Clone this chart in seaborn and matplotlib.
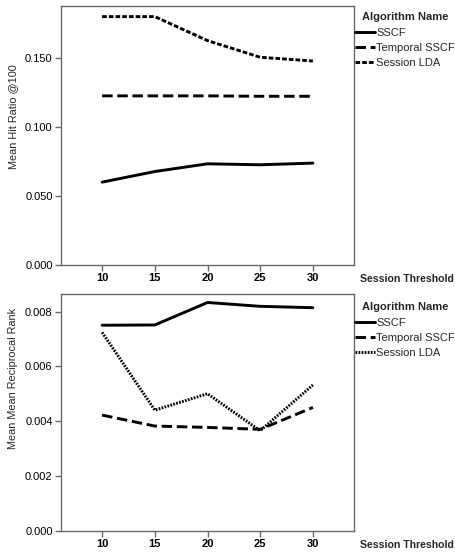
import matplotlib
matplotlib.use("Agg")
import matplotlib.pyplot as plt
import seaborn as sns
import pandas as pd
from matplotlib.ticker import FormatStrFormatter

thresholds = [10, 15, 20, 25, 30]
algorithms = ["SSCF", "Temporal SSCF", "Session LDA"]

hit_sscf = [0.0599, 0.0676, 0.0732, 0.0725, 0.0737]
hit_temporal = [0.1225, 0.1225, 0.1225, 0.1222, 0.1222]
hit_lda = [0.1800, 0.1800, 0.1626, 0.1505, 0.1478]

mrr_sscf = [0.00750, 0.00751, 0.00833, 0.00819, 0.00814]
mrr_temporal = [0.00422, 0.00382, 0.00377, 0.00370, 0.00450]
mrr_lda = [0.00724, 0.00440, 0.00500, 0.00365, 0.00532]


def long_df(a, b, c):
    rows = []
    for name, vals in zip(algorithms, [a, b, c]):
        for t, v in zip(thresholds, vals):
            rows.append({"Session Threshold": t, "Algorithm Name": name, "v": v})
    return pd.DataFrame(rows)


df_hit = long_df(hit_sscf, hit_temporal, hit_lda)
df_mrr = long_df(mrr_sscf, mrr_temporal, mrr_lda)

sns.set_theme(style="white")
plt.rcParams["font.family"] = ["Liberation Sans", "DejaVu Sans"]

fig = plt.figure(figsize=(4.56, 5.57), dpi=100)
W, H = 456, 557


def add_axes(left, top, right, bottom):
    return fig.add_axes([left / W, 1 - bottom / H, (right - left) / W, (bottom - top) / H])


ax1 = add_axes(61, 6, 354, 264.7)
ax2 = add_axes(61, 294, 354, 530.7)

spine_col = "#6a6a6a"

configs = [
    (ax1, df_hit, "Mean Hit Ratio @100", (0, 0.1877), [0, 0.05, 0.10, 0.15], "%.3f",
     {"SSCF": "", "Temporal SSCF": (3.6, 1.6), "Session LDA": (1.6, 0.7)}, 0.571, 0.98, 279),
    (ax2, df_mrr, "Mean Mean Reciprocal Rank", (0, 0.00864), [0, 0.002, 0.004, 0.006, 0.008], "%.3f",
     {"SSCF": "", "Temporal SSCF": (3.6, 1.6), "Session LDA": (0.6, 0.45)}, 0.645, 0.97, 545),
]

for ax, df, ylab, ylim, yticks, fmt, dashes, ylab_y, leg_y, st_y in configs:
    sns.lineplot(data=df, x="Session Threshold", y="v", style="Algorithm Name",
                 style_order=algorithms, dashes=dashes, color="black",
                 linewidth=2.1, ax=ax, markers=False)
    ax.set_xlim(6.1, 33.9)
    ax.set_ylim(*ylim)
    ax.set_xticks(thresholds)
    ax.set_xticklabels([str(t) for t in thresholds], fontsize=8, fontweight="bold")
    ax.set_yticks(yticks)
    ax.yaxis.set_major_formatter(FormatStrFormatter(fmt))
    ax.tick_params(axis="y", labelsize=8)
    ax.tick_params(axis="both", which="major", direction="out", length=4, width=1,
                   color=spine_col, labelcolor="black", pad=2, left=True, bottom=True)
    for s in ax.spines.values():
        s.set_color(spine_col)
        s.set_linewidth(1)
    ax.set_xlabel("")
    ax.set_ylabel(ylab, fontsize=7.8)
    ax.yaxis.set_label_coords(-0.147, ylab_y)
    ax.grid(False)

    handles, labels = ax.get_legend_handles_labels()
    leg = ax.legend(handles, labels, title="Algorithm Name", loc="upper left",
                    bbox_to_anchor=(1.0, leg_y), frameon=False, fontsize=8,
                    title_fontproperties={"weight": "bold", "size": 8},
                    handlelength=1.8, handletextpad=0.1, labelspacing=0.48,
                    borderpad=0, borderaxespad=0.1, alignment="center")
    for line in leg.get_lines():
        line.set_linewidth(2.1)

    fig.text(360 / W, 1 - st_y / H, "Session Threshold", fontsize=7.6,
             fontweight="bold", ha="left", va="center")

fig.savefig("out.png", dpi=100)
